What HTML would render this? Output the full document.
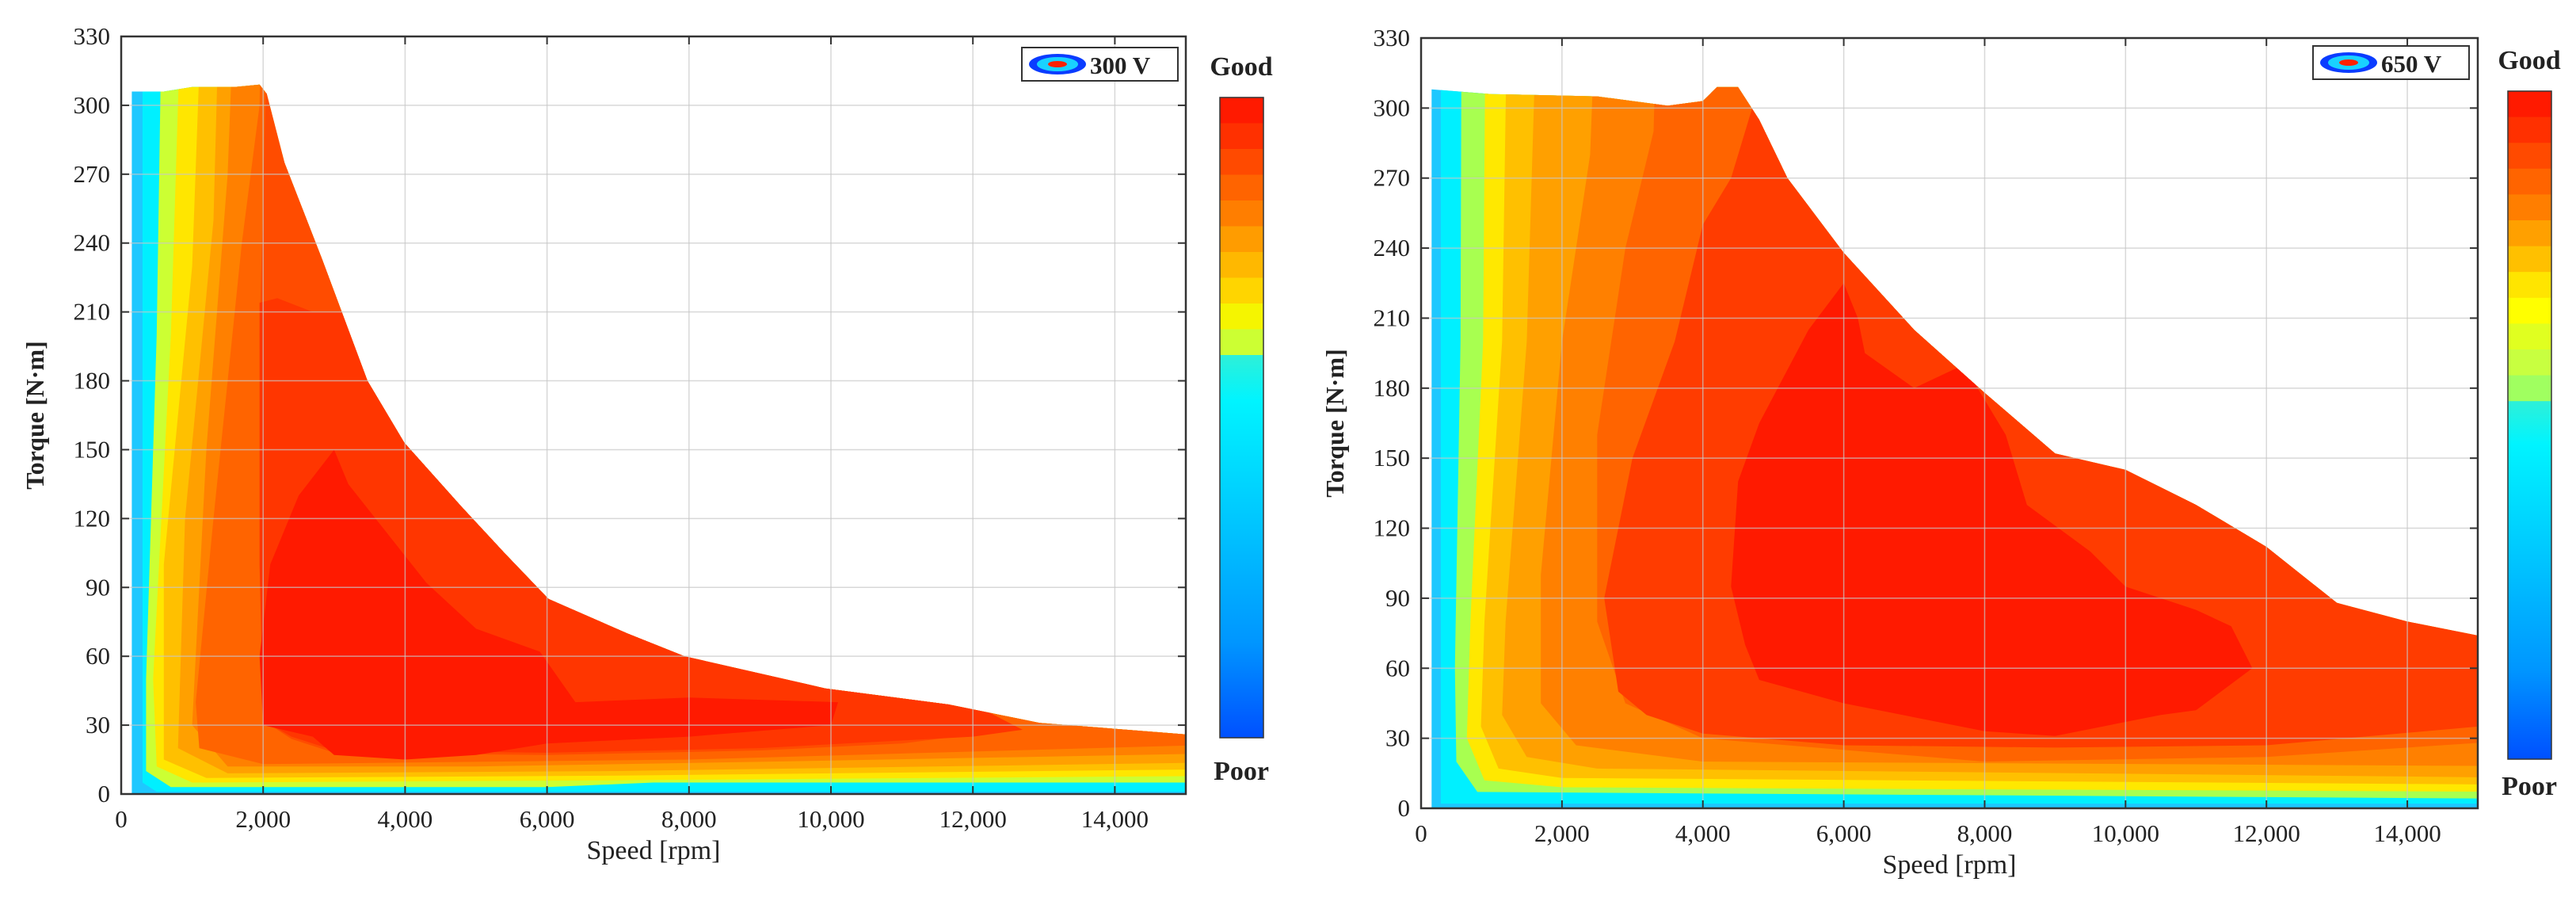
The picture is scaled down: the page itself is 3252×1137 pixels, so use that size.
<!DOCTYPE html>
<html><head><meta charset="utf-8"><style>
html,body{margin:0;padding:0;background:#fff;}
svg text{font-family:"Liberation Serif",serif;fill:#222;}
</style></head><body>
<svg id="chart" width="3252" height="1132" viewBox="0 0 3252 1132" xmlns="http://www.w3.org/2000/svg"></svg>
<script>
const xTicks=[0,2000,4000,6000,8000,10000,12000,14000];
const xTickLabels=["0","2,000","4,000","6,000","8,000","10,000","12,000","14,000"];
const yTicks=[0,30,60,90,120,150,180,210,240,270,300,330];
const layerColors=["#1ec8ff","#00f0ff","#ccff33","#ffe600","#ffc000","#ffa000","#ff8000","#ff6400","#ff4c00","#ff3600","#ff1a00"];
const layerColorsR=["#1ec8ff","#00f0ff","#a8ff50","#ffe800","#ffc000","#ffa000","#ff8000","#ff6400","#ff3c00","#ff1a00"];
// Left (300 V) envelope and level regions [speed, torque]
const envL=[[150,0],[150,306],[600,306],[1000,308],[1600,308],[1950,309],[2050,305],[2300,275],[2830,233],[3470,180],[3990,153],[4800,125],[5400,105],[6020,85],[7130,70],[7940,60],[9920,46],[11660,39],[12940,31],[15000,26],[15000,0]];
const levelsL=[
 [[300,400],[300,5],[500,1],[16000,1],[16000,400]],
 [[600,400],[500,200],[350,50],[350,10],[700,3],[6000,3],[7500,5],[16000,5],[16000,400]],
 [[900,400],[700,200],[450,50],[500,12],[1000,5],[7000,6],[16000,8],[16000,400]],
 [[1200,400],[1000,230],[600,100],[600,15],[1200,7],[7000,8],[16000,11],[16000,400]],
 [[1430,400],[1300,250],[900,120],[800,20],[1500,9],[7000,10],[16000,14],[16000,400]],
 [[1660,400],[1500,270],[1200,150],[1000,30],[1500,12],[5000,12],[9000,14],[16000,18],[16000,400]],
 [[2000,400],[1950,300],[1700,240],[1300,120],[1050,40],[1100,20],[2000,13],[8000,15],[16000,22],[16000,400]],
 [[2100,400],[2000,260],[1950,200],[2000,100],[2000,32],[2400,24],[3000,18],[6000,17],[9000,19],[11000,22],[12000,26],[12700,28],[12200,35],[16000,40],[16000,400]],
 [[1950,214],[2200,216],[2700,210],[16000,210],[16000,38],[12200,36],[12700,28],[12000,25],[9000,20],[6000,18],[3000,19],[2400,25],[2000,32],[1950,100]],
 [[3000,150],[3200,135],[4300,92],[5000,72],[5900,62],[6400,40],[8000,42],[10100,40],[10000,30],[8000,25],[6000,22],[5000,17],[4000,15],[3000,17],[2700,25],[2000,30],[1950,60],[2100,100],[2500,130]]
];
// Right (650 V)
const envR=[[150,0],[150,308],[1000,306],[2500,305],[3500,301],[4000,303],[4200,309],[4500,309],[4800,295],[5200,270],[6000,238],[7000,205],[8000,178],[9000,152],[10000,145],[11000,130],[12000,112],[13000,88],[14000,80],[15000,74],[15000,0]];
const levelsR=[
 [[280,400],[280,2],[16000,2],[16000,400]],
 [[580,400],[560,200],[480,60],[500,20],[800,7],[16000,4],[16000,400]],
 [[930,400],[880,200],[700,80],[650,30],[900,12],[2000,9],[16000,7],[16000,400]],
 [[1250,400],[1150,200],[900,80],[850,35],[1100,17],[2000,13],[16000,10],[16000,400]],
 [[1700,400],[1500,200],[1200,80],[1150,40],[1500,22],[2500,17],[16000,13],[16000,400]],
 [[2550,400],[2400,280],[2000,200],[1700,100],[1700,45],[2200,27],[4000,20],[16000,18],[16000,400]],
 [[3400,400],[3300,290],[2900,240],[2500,160],[2500,80],[2900,45],[4000,30],[8000,20],[12000,22],[15000,28],[16000,30],[16000,400]],
 [[4700,400],[4700,300],[4400,270],[4000,250],[3600,200],[3000,150],[2600,90],[2800,50],[3200,40],[4000,32],[6000,27],[9000,26],[12000,27],[15000,35],[16000,40],[16000,400]],
 [[6000,225],[6200,210],[6300,195],[7000,180],[7700,190],[8300,160],[8600,130],[9500,110],[10000,95],[11000,85],[11500,78],[11800,60],[11000,42],[10500,40],[9000,31],[8000,33],[6000,45],[4800,55],[4600,70],[4400,95],[4500,140],[4800,165],[5500,205]]
];
const cbarL=["#ff1a00","#ff3000","#ff4a00","#ff6400","#ff7e00","#ff9c00","#ffb800","#ffd500","#f5f500","#ccff33"];
const cbarR=["#ff1a00","#ff3000","#ff4a00","#ff6400","#ff7e00","#ffa000","#ffc000","#ffe500","#ffff00","#e0ff20","#c8ff40","#a0ff60"];
const NS="http://www.w3.org/2000/svg";
const svg=document.getElementById('chart');
function mk(tag,attrs,parent){const e=document.createElementNS(NS,tag);for(const k in attrs)e.setAttribute(k,attrs[k]);(parent||svg).appendChild(e);return e;}
function panel(o){
 const g=mk('g',{});
 
 
 const X=v=>o.x0+v/15000*(o.x1-o.x0), Y=t=>o.y1-t/330*(o.y1-o.y0);
 const pts=a=>a.map(p=>X(p[0]).toFixed(1)+','+Y(p[1]).toFixed(1)).join(' ');
 const cp=mk('clipPath',{id:o.id+'-clip'},g); mk('polygon',{points:pts(o.env)},cp);
 const cp2=mk('clipPath',{id:o.id+'-plot'},g); mk('rect',{x:o.x0,y:o.y0,width:o.x1-o.x0,height:o.y1-o.y0},cp2);
 const cg=mk('g',{'clip-path':'url(#'+o.id+'-plot)'},g);
 const env=mk('polygon',{points:pts(o.env),fill:o.colors[0]},cg);
 
 
 const lg=mk('g',{'clip-path':'url(#'+o.id+'-clip)'},cg);
 o.levels.forEach((lv,i)=>{const p=mk('polygon',{points:pts(lv),fill:o.colors[i+1]},lg);
  
  });
 yTicks.forEach(t=>{mk('line',{x1:o.x0,x2:o.x1,y1:Y(t),y2:Y(t),stroke:'#c8c8c8','stroke-width':1.5,'stroke-opacity':0.7},g);
  mk('line',{x1:o.x0,x2:o.x0+10,y1:Y(t),y2:Y(t),stroke:'#333','stroke-width':2},g);
  mk('line',{x1:o.x1,x2:o.x1-10,y1:Y(t),y2:Y(t),stroke:'#333','stroke-width':2},g);
  const tx=mk('text',{x:o.x0-14,y:Y(t)+10,'font-size':31,'text-anchor':'end'},g);tx.textContent=t;
  
  });
 xTicks.forEach((v,i)=>{mk('line',{y1:o.y0,y2:o.y1,x1:X(v),x2:X(v),stroke:'#c8c8c8','stroke-width':1.5,'stroke-opacity':0.7},g);
  mk('line',{y1:o.y1,y2:o.y1-10,x1:X(v),x2:X(v),stroke:'#333','stroke-width':2},g);
  mk('line',{y1:o.y0,y2:o.y0+10,x1:X(v),x2:X(v),stroke:'#333','stroke-width':2},g);
  const tx=mk('text',{x:X(v),y:o.y1+42,'font-size':31,'text-anchor':'middle'},g);tx.textContent=xTickLabels[i];
  
  });
 mk('rect',{x:o.x0,y:o.y0,width:o.x1-o.x0,height:o.y1-o.y0,fill:'none',stroke:'#333','stroke-width':2.5},g);
 const xt=mk('text',{x:(o.x0+o.x1)/2,y:o.y1+82,'font-size':34,'text-anchor':'middle'},g);xt.textContent='Speed [rpm]';
 
 
 const yc=(o.y0+o.y1)/2;
 const yt=mk('text',{x:o.x0-98,y:yc,'font-size':32,'font-weight':'bold','text-anchor':'middle',transform:'rotate(-90 '+(o.x0-98)+' '+yc+')'},g);yt.textContent='Torque [N·m]';
 
 
 // legend
 const lgd=mk('g',{},g);
 
 
 mk('rect',{x:o.lx,y:o.ly,width:197,height:42,fill:'#fff',stroke:'#333','stroke-width':2},lgd);
 mk('ellipse',{cx:o.lx+45,cy:o.ly+21,rx:36,ry:13,fill:'#0a3cff'},lgd);
 mk('ellipse',{cx:o.lx+45,cy:o.ly+21,rx:26,ry:9,fill:'#19d2ff'},lgd);
 mk('ellipse',{cx:o.lx+45,cy:o.ly+21,rx:12,ry:4,fill:'#ff2000'},lgd);
 const lt=mk('text',{x:o.lx+86,y:o.ly+33,'font-size':31,'font-weight':'bold'},lgd);lt.textContent=o.label;
 // colorbar
 const cb=mk('g',{},g);
 
 
 const gid=o.id+'-grad';
 const gr=mk('linearGradient',{id:gid,x1:0,y1:0,x2:0,y2:1},cb);
 [[0,'#2ef0d8'],[0.12,'#00f4ff'],[0.45,'#00c4ff'],[0.75,'#0096ff'],[1,'#0050ff']].forEach(s=>mk('stop',{offset:s[0],'stop-color':s[1]},gr));
 const bh=o.bandH, n=o.cbar.length;
 o.cbar.forEach((c,i)=>mk('rect',{x:o.cx,y:o.cy0+i*bh,width:55,height:bh+0.5,fill:c},cb));
 mk('rect',{x:o.cx,y:o.cy0+n*bh,width:55,height:o.cy1-o.cy0-n*bh,fill:'url(#'+gid+')'},cb);
 mk('rect',{x:o.cx,y:o.cy0,width:55,height:o.cy1-o.cy0,fill:'none',stroke:'#333','stroke-width':1.5},cb);
 const gd=mk('text',{x:o.cx+27,y:o.gy,'font-size':34,'font-weight':'bold','text-anchor':'middle'},cb);gd.textContent='Good';
 const pr=mk('text',{x:o.cx+27,y:o.py,'font-size':34,'font-weight':'bold','text-anchor':'middle'},cb);pr.textContent='Poor';
}
panel({id:'v300',x0:153,x1:1497,y0:46,y1:1002,env:envL,levels:levelsL,colors:layerColors,label:'300 V',lx:1290,ly:60,cbar:cbarL,cx:1540,cy0:123,cy1:931,bandH:32.5,gy:95,py:984});
panel({id:'v650',x0:1794,x1:3128,y0:48,y1:1020,env:envR,levels:levelsR,colors:layerColorsR,label:'650 V',lx:2920,ly:58,cbar:cbarR,cx:3166,cy0:115,cy1:958,bandH:32.6,gy:87,py:1003});
</script>
</body></html>
